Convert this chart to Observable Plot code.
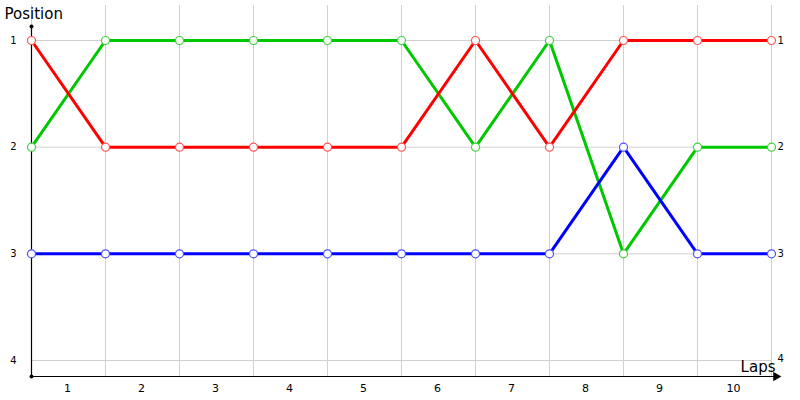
<!DOCTYPE html>
<html>
<head>
<meta charset="utf-8">
<script src="https://cdn.jsdelivr.net/npm/d3@7"></script>
<script src="https://cdn.jsdelivr.net/npm/@observablehq/plot@0.6"></script>
<style>
  html, body { margin: 0; padding: 0; background: #fff; }
  svg { display: block; }
</style>
</head>
<body>
<div id="chart"></div>
<script>
const laps = [0, 1, 2, 3, 4, 5, 6, 7, 8, 9, 10];
const lapLabels = ["1", "2", "3", "4", "5", "6", "7", "8", "9", "10"];
const positions = [1, 2, 3, 4];
const seriesNames = ["Green", "Red", "Blue"];
const redPos = [1, 2, 2, 2, 2, 2, 1, 2, 1, 1, 1];
const greenPos = [2, 1, 1, 1, 1, 1, 2, 1, 3, 2, 2];
const bluePos = [3, 3, 3, 3, 3, 3, 3, 3, 2, 3, 3];

const lineColors = {Red: "#ff0000", Green: "#00c800", Blue: "#0000ff"};
const dotColors = {Red: "#ff5050", Green: "#40d040", Blue: "#5050ff"};
const valuesBy = {Red: redPos, Green: greenPos, Blue: bluePos};

const rows = [];
for (const s of seriesNames) {
  laps.forEach((l, i) => rows.push({series: s, lap: l, pos: valuesBy[s][i]}));
}

const yTop = 0.672, yAxisTop = 0.869, yBottom = 4.15, xEnd = 10.06;
const font = "DejaVu Sans, Verdana, sans-serif";

const plot = Plot.plot({
  width: 800,
  height: 400,
  margin: 0,
  x: {domain: [0, 10], range: [31, 771], axis: null},
  y: {domain: [1, 4], range: [40, 360], axis: null},
  style: {fontFamily: font, background: "#fff"},
  marks: [
    // grid
    Plot.ruleX(laps, {x: d => d, y1: yTop, y2: yBottom, stroke: "#d0d0d0", strokeWidth: 1}),
    Plot.ruleY(positions, {y: d => d, x1: 0, x2: 10, stroke: "#d0d0d0", strokeWidth: 1}),
    // axes
    Plot.ruleX([0], {y1: yAxisTop, y2: yBottom, stroke: "#000", strokeWidth: 1.2}),
    Plot.ruleY([yBottom], {x1: 0, x2: xEnd, stroke: "#000", strokeWidth: 1.2}),
    Plot.dot([[0, yAxisTop], [0, yBottom]], {x: d => d[0], y: d => d[1], r: 2, fill: "#000"}),
    Plot.dot([[xEnd, yBottom]], {x: d => d[0], y: d => d[1], symbol: "triangle", rotate: 90, r: 3.5, fill: "#000"}),
    // lines
    Plot.line(rows, {x: "lap", y: "pos", z: "series", stroke: d => lineColors[d.series], strokeWidth: 3, curve: "linear"}),
    Plot.dot(rows, {x: "lap", y: "pos", r: 4, fill: "#fff", stroke: d => dotColors[d.series], strokeWidth: 1.2}),
    // tick labels
    Plot.text(positions, {x: 0, y: d => d, text: d => String(d), dx: -18, fontSize: 10, fill: "#000"}),
    Plot.text(positions.slice(0, 3), {x: 10, y: d => d, text: d => String(d), dx: 6, textAnchor: "start", fontSize: 10, fill: "#000"}),
    Plot.text(positions.slice(3), {x: 10, y: d => d, text: d => String(d), dx: 6, dy: -2, textAnchor: "start", fontSize: 10, fill: "#000"}),
    Plot.text(lapLabels, {x: (d, i) => i + 0.5, y: yBottom, text: d => d, dx: -1, dy: 12, fontSize: 11, fill: "#000"}),
    // axis titles
    Plot.text(["Position"], {x: 0, y: yAxisTop, text: d => d, dx: -27, dy: -12, textAnchor: "start", fontSize: 15, fill: "#000"}),
    Plot.text(["Laps"], {x: 10, y: yBottom, text: d => d, dx: 4, dy: -9, textAnchor: "end", fontSize: 15, fill: "#000"})
  ]
});
document.getElementById("chart").appendChild(plot);
</script>
</body>
</html>
